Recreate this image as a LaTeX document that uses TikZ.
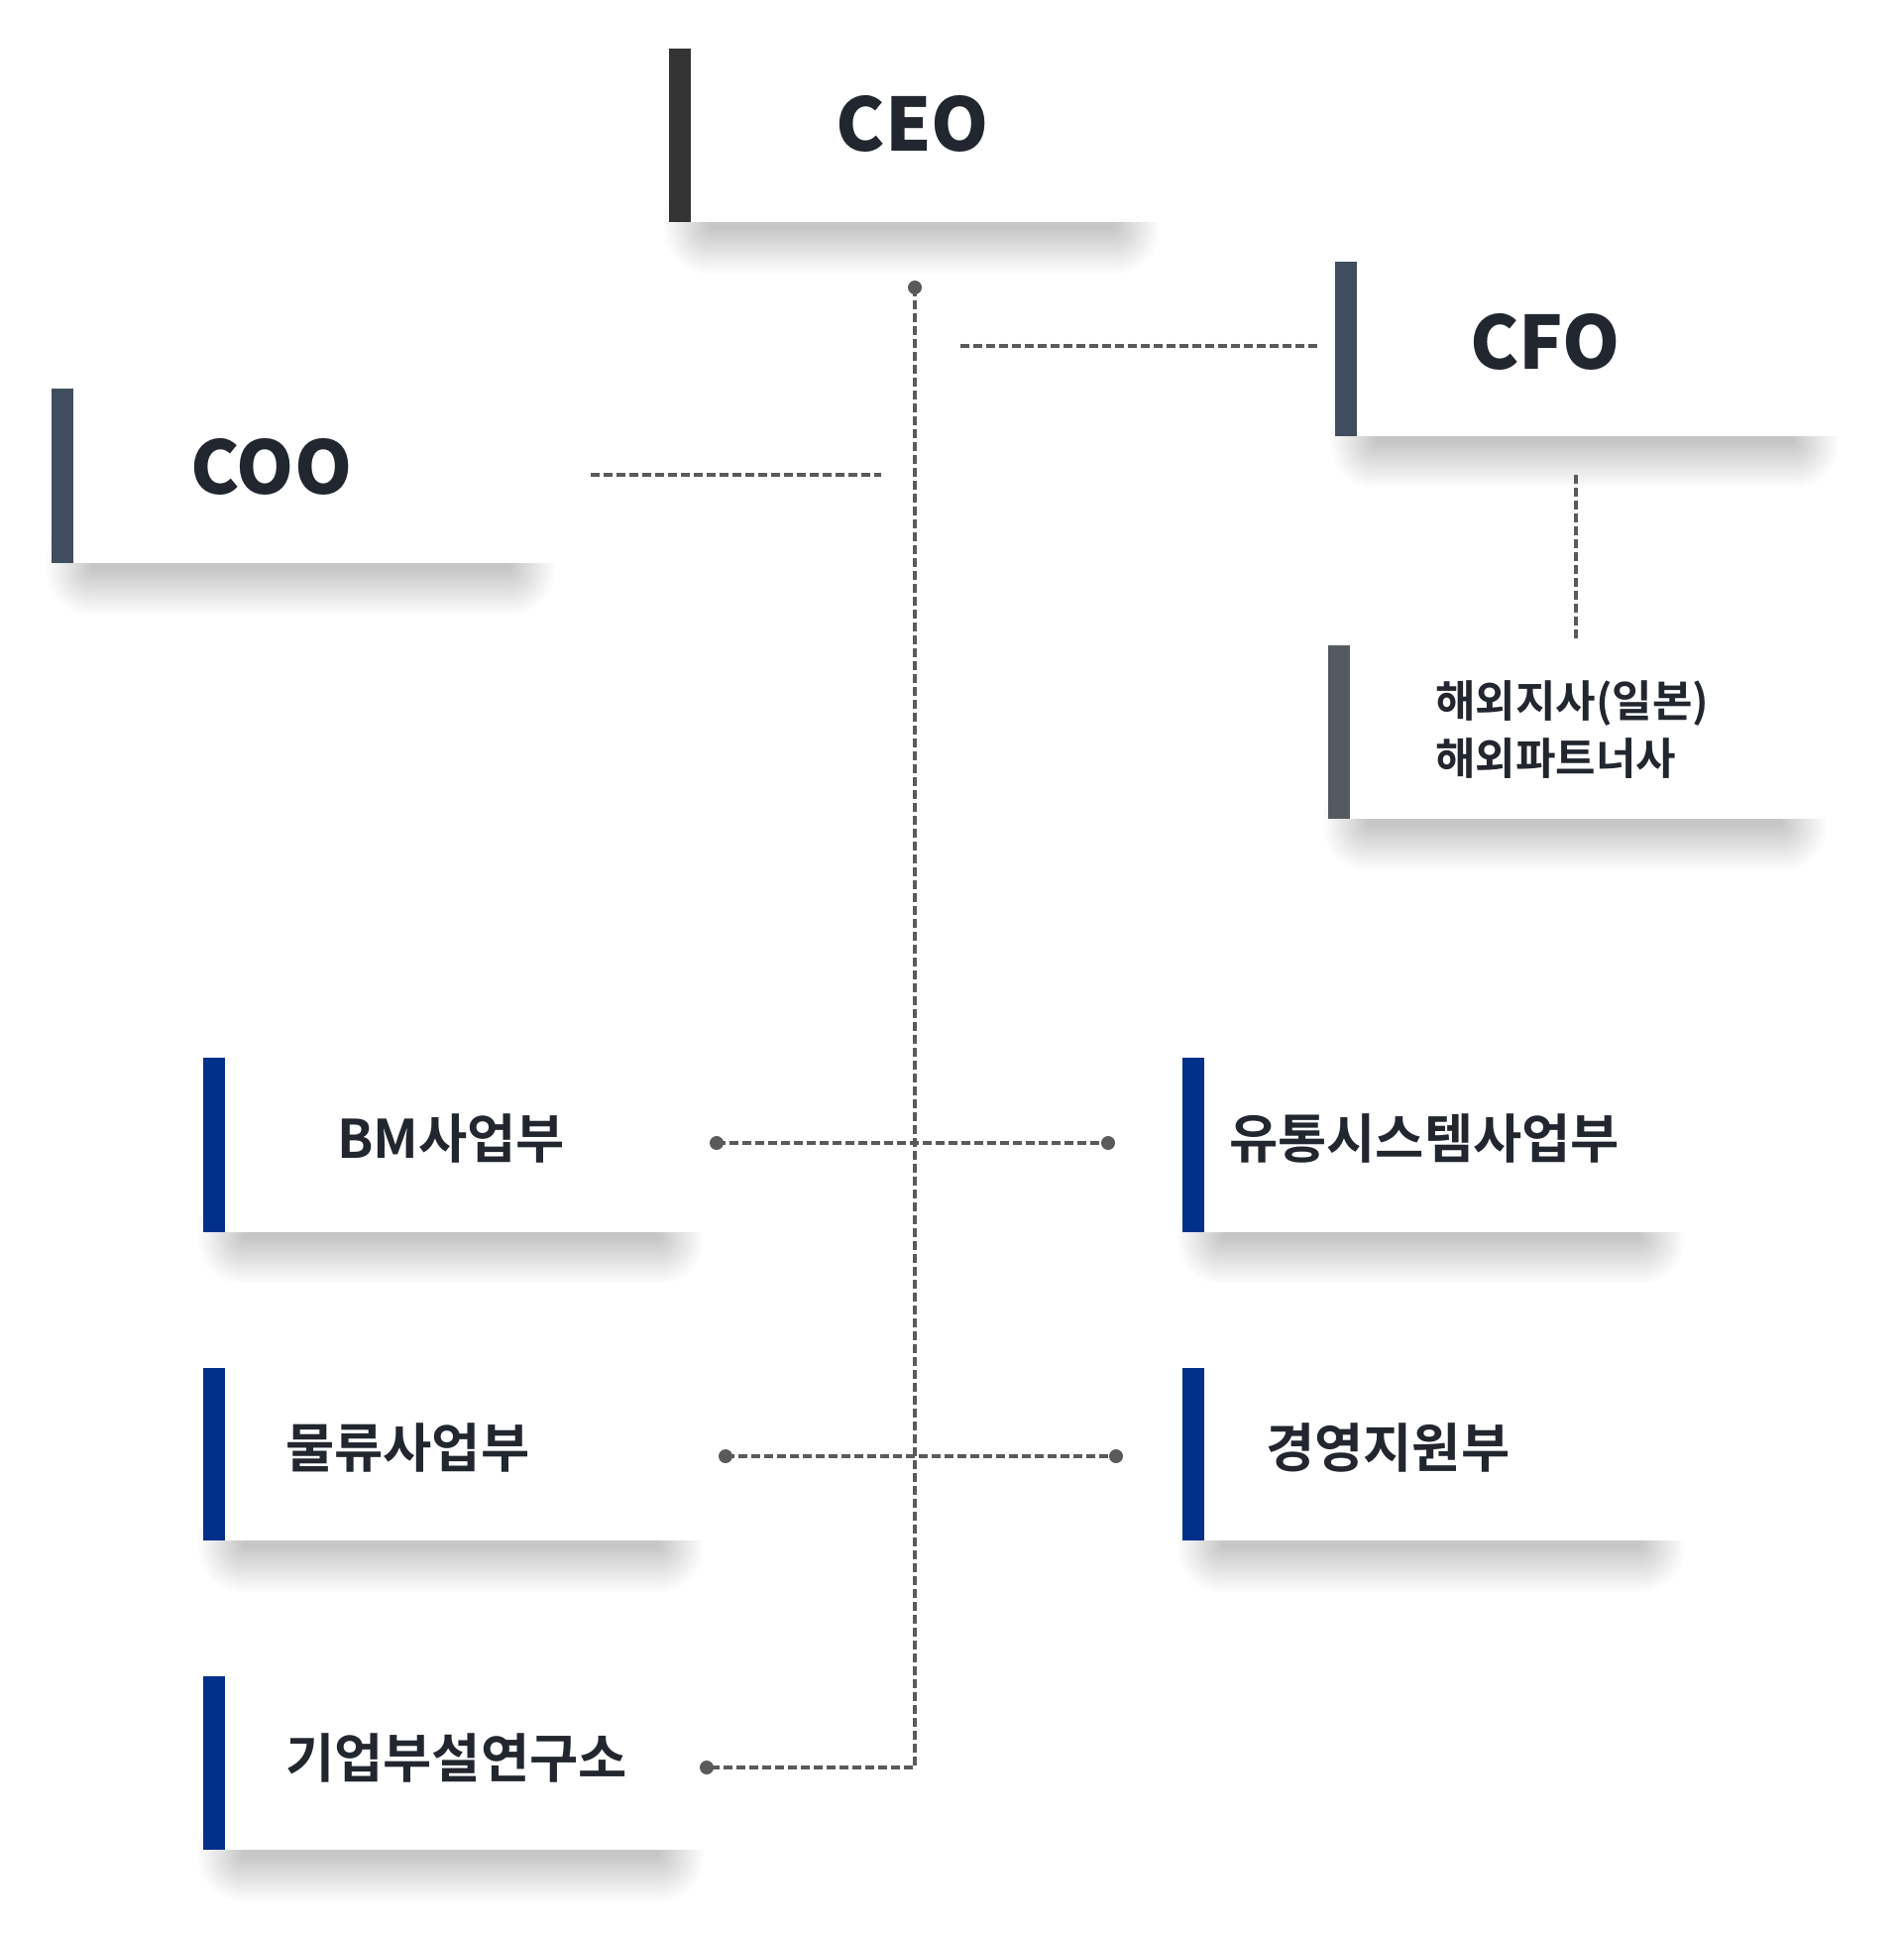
\documentclass[tikz,border=0pt]{standalone}
\usepackage{fontspec}
\newfontfamily\krb{Noto Sans CJK KR Bold}
\newfontfamily\krk{Noto Sans CJK KR Black}
\definecolor{ceobar}{HTML}{333333}
\definecolor{cxobar}{HTML}{3F4D5E}
\definecolor{subbar}{HTML}{555960}
\definecolor{divbar}{HTML}{00308A}
\definecolor{txt}{HTML}{21262F}
\definecolor{ln}{HTML}{5A5A5A}
\tikzset{
  boxst/.style={fill=white, inner sep=0pt, outer sep=0pt},
  bigtxt/.style={font=\krk\fontsize{74}{80}\selectfont, text=txt, inner sep=0pt},
  divtxt/.style={font=\krb\fontsize{53.5}{60}\selectfont, text=txt, inner sep=0pt, anchor=west},
  subtxt/.style={font=\krb\fontsize{44}{58}\selectfont, text=txt, inner sep=0pt, align=left, anchor=west},
  conn/.style={draw=ln, line width=3.2pt, dash pattern=on 9pt off 4pt},
}
% name, left, top, right, bottom, bar colour
\newcommand\orgbox[6]{%
  \foreach \k in {0,...,18} {
    \pgfmathsetmacro\ee{\k*2.5}
    \fill[black, opacity=0.013, rounded corners=\ee pt]
      ({#2+40-\ee}, {#5-4-\ee}) rectangle ({#4-45+\ee}, {#5+7+\ee});
  }
  \node[boxst, minimum width={#4-#2}, minimum height={#5-#3}] (#1) at ({(#2+#4)/2},{(#3+#5)/2}) {};
  \fill[#6] (#1.north west) rectangle ([xshift=21.5pt]#1.south west);
}
\begin{document}
\begin{tikzpicture}[x=1pt, y=-1pt]
\useasboundingbox[fill=white] (0,0) rectangle (1920,1952);

% boxes
\orgbox{ceo}{675}{49}{1170}{224}{ceobar}
\orgbox{cfo}{1347}{264}{1855}{440}{cxobar}
\orgbox{coo}{52}{392}{560}{568}{cxobar}
\orgbox{sub}{1340}{651}{1843}{826}{subbar}
\orgbox{bm}{205}{1067}{710}{1243}{divbar}
\orgbox{dist}{1193}{1067}{1700}{1243}{divbar}
\orgbox{logi}{205}{1380}{710}{1554}{divbar}
\orgbox{mgmt}{1193}{1380}{1700}{1554}{divbar}
\orgbox{lab}{205}{1691}{710}{1866}{divbar}

% texts
\node[bigtxt] (ceoT) at (921,125) {CEO};
\node[bigtxt] (cfoT) at (1559,345) {CFO};
\node[bigtxt] (cooT) at (274,471) {COO};
\node[subtxt] (subT) at (1448,736) {해외지사(일본)\\해외파트너사};
\node[divtxt] (bmT) at (340,1148) {BM사업부};
\node[divtxt] (distT) at (1240,1148) {유통시스템사업부};
\node[divtxt] (logiT) at (288,1460) {물류사업부};
\node[divtxt] (mgmtT) at (1277,1460) {경영지원부};
\node[divtxt] (labT) at (288,1773) {기업부설연구소};

% connector end points
\coordinate (top) at (923,290);
\coordinate (corner) at (923,1783);
\coordinate (labD) at (713,1783);
\coordinate (cfoL) at (969,349);
\coordinate (cfoR) at (1329,349);
\coordinate (cooL) at (596,479);
\coordinate (cooR) at (889,479);
\coordinate (subA) at (1590,479);
\coordinate (subB) at (1590,644);
\coordinate (r1L) at (723,1153);
\coordinate (r1R) at (1118,1153);
\coordinate (r2L) at (732,1469);
\coordinate (r2R) at (1126,1469);

% connectors
\draw[conn] (top) -- (corner) -- (labD);
\draw[conn] (cfoL) -- (cfoR);
\draw[conn] (cooL) -- (cooR);
\draw[conn] (subA) -- (subB);
\draw[conn] (r1L) -- (r1R);
\draw[conn] (r2L) -- (r2R);

% dots
\foreach \p in {top, labD, r1L, r1R, r2L, r2R}
  \fill[ln] (\p) circle (7);
\end{tikzpicture}
\end{document}
